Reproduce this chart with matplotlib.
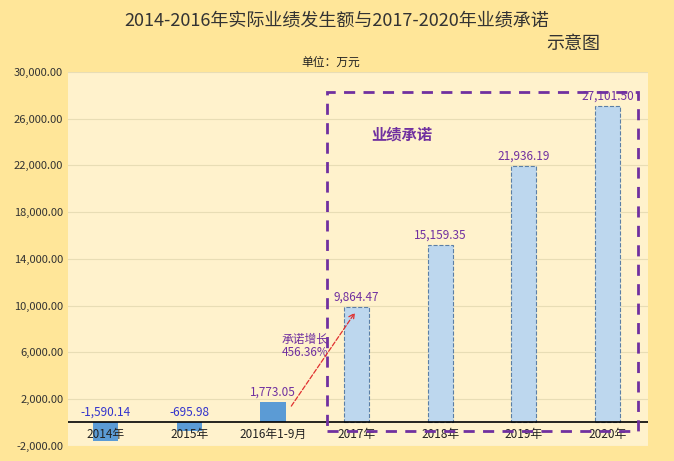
import matplotlib
matplotlib.use("Agg")
import matplotlib.pyplot as plt
from matplotlib.patches import Rectangle
from matplotlib.ticker import FuncFormatter

plt.rcParams['font.family'] = ['Noto Sans CJK SC', 'DejaVu Sans']

categories = ["2014年", "2015年", "2016年1-9月", "2017年", "2018年", "2019年", "2020年"]
values = [-1590.14, -695.98, 1773.05, 9864.47, 15159.35, 21936.19, 27101.50]
actual_n = 3
yticks = [-2000, 2000, 6000, 10000, 14000, 18000, 22000, 26000, 30000]

fig = plt.figure(figsize=(6.74, 4.61), dpi=100)
fig.patch.set_facecolor('#FFE699')
ax = fig.add_axes([0.101, 0.033, 0.86, 0.811])
ax.set_facecolor('#FFF2CC')
for i, v in enumerate(values):
    if i < actual_n:
        ax.bar(i, v, 0.3, color='#5B9BD5', zorder=3)
        col = '#3333CC' if v < 0 else '#7030A0'
    else:
        ax.bar(i, v, 0.3, color='#BDD7EE', edgecolor='#5B7FA6', linestyle='--', linewidth=0.8, zorder=3)
        col = '#7030A0'
    ytxt = (max(v, 0) + 300)
    ax.text(i, ytxt, f"{v:,.2f}", ha='center', va='bottom', fontsize=8.5, color=col, zorder=4)
    ax.text(i, -1000, categories[i], ha='center', va='center', fontsize=8.5, color='#222222', zorder=4)

ax.set_xlim(-0.45, 6.48)
ax.set_ylim(-2000, 30000)
ax.set_yticks(yticks)
ax.yaxis.set_major_formatter(FuncFormatter(lambda v, p: f"{v:,.2f}"))
ax.tick_params(axis='y', labelsize=8, length=0, colors='#333333')
ax.set_xticks([])
ax.grid(axis='y', color='#E8DDB5', linewidth=0.8, zorder=0)
for s in ax.spines.values():
    s.set_visible(False)
ax.axhline(0, color='black', linewidth=1.2, zorder=5)

ax.add_patch(Rectangle((2.65, -700), 3.71, 29000, fill=False, edgecolor='#7030A0',
                       linestyle=(0, (4, 3)), linewidth=2, zorder=6))
ax.text(3.54, 24200, "业绩承诺", fontsize=11, fontweight='bold', color='#7030A0', ha='center')
ax.annotate("", xy=(3.0, 9600), xytext=(2.2, 1200),
            arrowprops=dict(arrowstyle='->', color='#E03030', linestyle='--', lw=0.9), zorder=6)
ax.text(2.38, 7150, "承诺增长", fontsize=8.5, color='#7030A0', ha='center', va='center')
ax.text(2.38, 6000, "456.36%", fontsize=8.5, color='#7030A0', ha='center', va='center')

fig.text(0.5, 0.955, "2014-2016年实际业绩发生额与2017-2020年业绩承诺", fontsize=13,
         ha='center', va='center', color='#333333')
fig.text(0.85, 0.905, "示意图", fontsize=13, ha='center', va='center', color='#333333')
fig.text(0.49, 0.865, "单位：万元", fontsize=8.5, ha='center', va='center', color='#222222')

fig.savefig("out.png", dpi=100, facecolor=fig.get_facecolor())
